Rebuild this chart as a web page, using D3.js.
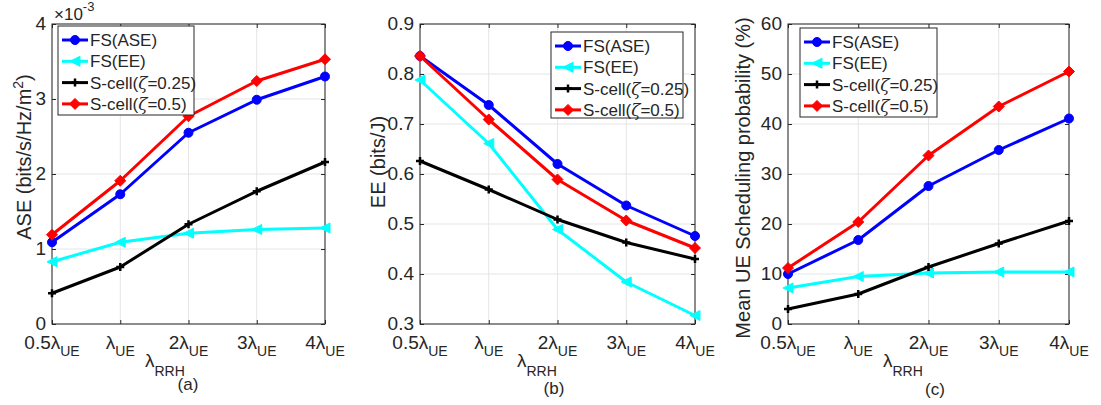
<!DOCTYPE html>
<html><head><meta charset="utf-8">
<script src="https://cdn.jsdelivr.net/npm/d3@7"></script>
<style>body{margin:0;background:#fff;} text{font-family:"Liberation Sans",Arial,sans-serif;fill:#262626;}</style>
</head><body>
<svg id="c" width="1101" height="405"></svg>
<script>
const categories = ["0.5", "", "2", "3", "4"];
const seriesNames = ["FS(ASE)", "FS(EE)", "S-cell(\u03B6=0.25)", "S-cell(\u03B6=0.5)"];
const seriesColors = ["#0000ff", "#00ffff", "#000000", "#ff0000"];
const seriesMarkers = ["circle", "triangle", "plus", "diamond"];

// Panel (a): ASE x 1e-3
const aseFSASE = [1.09, 1.73, 2.55, 2.99, 3.30];
const aseFSEE = [0.83, 1.09, 1.21, 1.26, 1.28];
const aseS025 = [0.41, 0.76, 1.33, 1.77, 2.16];
const aseS05 = [1.19, 1.91, 2.77, 3.24, 3.53];
const aseTicks = [0, 1, 2, 3, 4];

// Panel (b): EE
const eeFSASE = [0.836, 0.738, 0.620, 0.537, 0.476];
const eeFSEE = [0.788, 0.661, 0.489, 0.384, 0.317];
const eeS025 = [0.626, 0.569, 0.509, 0.463, 0.430];
const eeS05 = [0.836, 0.709, 0.589, 0.507, 0.452];
const eeTicks = [0.3, 0.4, 0.5, 0.6, 0.7, 0.8, 0.9];

// Panel (c): Mean UE scheduling probability (%)
const spFSASE = [10.0, 16.8, 27.6, 34.8, 41.1];
const spFSEE = [7.2, 9.5, 10.2, 10.4, 10.4];
const spS025 = [3.0, 6.0, 11.4, 16.1, 20.6];
const spS05 = [11.2, 20.4, 33.7, 43.5, 50.5];
const spTicks = [0, 10, 20, 30, 40, 50, 60];

const svg = d3.select("#c");

function marker(g, type, color, x, y) {
  if (type === "circle") {
    g.append("circle").attr("cx", x).attr("cy", y).attr("r", 4.5).attr("fill", color).attr("stroke", color);
  } else if (type === "triangle") {
    const s = 5;
    g.append("path").attr("d", `M${x - s},${y} L${x + s},${y - s} L${x + s},${y + s} Z`).attr("fill", color).attr("stroke", color);
  } else if (type === "plus") {
    const s = 4;
    g.append("path").attr("d", `M${x - s},${y} H${x + s} M${x},${y - s} V${y + s}`).attr("stroke", color).attr("stroke-width", 2.5);
  } else if (type === "diamond") {
    const s = 5.5;
    g.append("path").attr("d", `M${x},${y - s} L${x + s},${y} L${x},${y + s} L${x - s},${y} Z`).attr("fill", color).attr("stroke", color);
  }
}

function panel(opt) {
  const g = svg.append("g");
  const x = d3.scalePoint().domain(d3.range(categories.length)).range([opt.left, opt.right]);
  const y = d3.scaleLinear().domain(opt.domain).range([opt.bottom, opt.top]);
  // grid
  x.domain().forEach(i => {
    g.append("line").attr("x1", x(i)).attr("x2", x(i)).attr("y1", opt.top).attr("y2", opt.bottom)
      .attr("stroke", "#e5e5e5").attr("stroke-width", 1);
  });
  opt.ticks.forEach(t => {
    g.append("line").attr("x1", opt.left).attr("x2", opt.right).attr("y1", y(t)).attr("y2", y(t))
      .attr("stroke", "#e5e5e5").attr("stroke-width", 1);
  });
  // axes with inward ticks (MATLAB style)
  const yl = d3.axisLeft(y).tickValues(opt.ticks).tickSizeInner(-4).tickSizeOuter(0).tickPadding(6)
    .tickFormat(opt.fmt);
  const ya = g.append("g").attr("transform", `translate(${opt.left},0)`).call(yl);
  ya.selectAll("text").style("font-size", "19px").attr("fill", "#262626").attr("dy", "0.3em");
  const yr = d3.axisRight(y).tickValues(opt.ticks).tickSizeInner(-4).tickSizeOuter(0).tickFormat("");
  g.append("g").attr("transform", `translate(${opt.right},0)`).call(yr);
  const xb = d3.axisBottom(x).tickSizeInner(-4).tickSizeOuter(0).tickFormat("");
  g.append("g").attr("transform", `translate(0,${opt.bottom})`).call(xb);
  const xt = d3.axisTop(x).tickSizeInner(-4).tickSizeOuter(0).tickFormat("");
  g.append("g").attr("transform", `translate(0,${opt.top})`).call(xt);
  g.selectAll(".domain").remove();
  g.selectAll(".tick line").attr("stroke", "#262626");
  g.append("rect").attr("x", opt.left).attr("y", opt.top).attr("width", opt.right - opt.left)
    .attr("height", opt.bottom - opt.top).attr("fill", "none").attr("stroke", "#262626").attr("stroke-width", 1);

  // x tick labels
  x.domain().forEach(i => {
    const t = g.append("text").attr("x", x(i)).attr("y", opt.bottom + 25).attr("text-anchor", "middle")
      .style("font-size", "19px");
    t.append("tspan").text(categories[i] + "\u03BB");
    t.append("tspan").text("UE").attr("dy", 7).style("font-size", "14px");
  });
  // x label
  const xlab = g.append("text").attr("x", opt.xlabX).attr("y", 367).attr("text-anchor", "start")
    .style("font-size", "19px");
  xlab.append("tspan").text("\u03BB");
  xlab.append("tspan").text("RRH").attr("dy", 9).style("font-size", "14px");
  g.append("text").attr("x", opt.capX).attr("y", opt.capY).attr("text-anchor", "middle")
    .style("font-size", "17px").text(opt.caption);

  // y label
  const ylab = g.append("text").attr("transform", `translate(${opt.ylabX},${opt.ylabY}) rotate(-90)`)
    .attr("text-anchor", "middle").style("font-size", "20px");
  opt.ylabel(ylab);

  // series
  opt.series.forEach((vals, si) => {
    const line = d3.line().x((d, i) => x(i)).y(d => y(d));
    g.append("path").datum(vals).attr("d", line).attr("fill", "none")
      .attr("stroke", seriesColors[si]).attr("stroke-width", 3).attr("stroke-linejoin", "round");
    vals.forEach((v, i) => marker(g, seriesMarkers[si], seriesColors[si], x(i), y(v)));
  });

  // legend
  const L = opt.legend;
  g.append("rect").attr("x", L.x).attr("y", L.y).attr("width", L.w).attr("height", L.h)
    .attr("fill", "#fff").attr("stroke", "#262626").attr("stroke-width", 1);
  seriesNames.forEach((name, si) => {
    const cy = L.y + 14 + si * 21.3;
    g.append("line").attr("x1", L.x + 4).attr("x2", L.x + 30).attr("y1", cy).attr("y2", cy)
      .attr("stroke", seriesColors[si]).attr("stroke-width", 3);
    marker(g, seriesMarkers[si], seriesColors[si], L.x + 17, cy);
    const t = g.append("text").attr("x", L.x + 32).attr("y", cy + 6).style("font-size", "17px").attr("fill", "#000");
    const m = name.match(/^(.*)\u03B6(.*)$/);
    if (m) {
      t.append("tspan").text(m[1]);
      t.append("tspan").text("\u03B6").style("font-family", "'DejaVu Serif',serif").style("font-style", "italic");
      t.append("tspan").text(m[2]);
    } else t.text(name);
  });
}

panel({
  left: 52, right: 325, top: 24, bottom: 324, domain: [0, 4], ticks: aseTicks, fmt: d3.format("d"),
  series: [aseFSASE, aseFSEE, aseS025, aseS05],
  xlabX: 145, capX: 188, capY: 390, caption: "(a)", ylabX: 31, ylabY: 157,
  ylabel: t => { t.append("tspan").text("ASE (bits/s/Hz/m"); t.append("tspan").text("2").attr("dy", -8).style("font-size", "14px"); t.append("tspan").text(")").attr("dy", 8); },
  legend: { x: 58, y: 26, w: 136, h: 89 }
});
panel({
  left: 420, right: 695, top: 24, bottom: 324, domain: [0.3, 0.9], ticks: eeTicks, fmt: d3.format(".1f"),
  series: [eeFSASE, eeFSEE, eeS025, eeS05],
  xlabX: 517, capX: 554, capY: 394, caption: "(b)", ylabX: 385, ylabY: 162,
  ylabel: t => t.text("EE (bits/J)"),
  legend: { x: 551, y: 32, w: 132, h: 86 }
});
panel({
  left: 788, right: 1069, top: 24, bottom: 324, domain: [0, 60], ticks: spTicks, fmt: d3.format("d"),
  series: [spFSASE, spFSEE, spS025, spS05],
  xlabX: 883, capX: 935, capY: 395, caption: "(c)", ylabX: 750, ylabY: 178,
  ylabel: t => t.text("Mean UE Scheduling probability (%)"),
  legend: { x: 800, y: 28, w: 137, h: 89 }
});

// exponent label for panel (a)
const ex = svg.append("text").attr("x", 54).attr("y", 20).style("font-size", "17px");
ex.append("tspan").text("\u00D710");
ex.append("tspan").text("-3").attr("dy", -9).style("font-size", "13px");
</script>
</body></html>
